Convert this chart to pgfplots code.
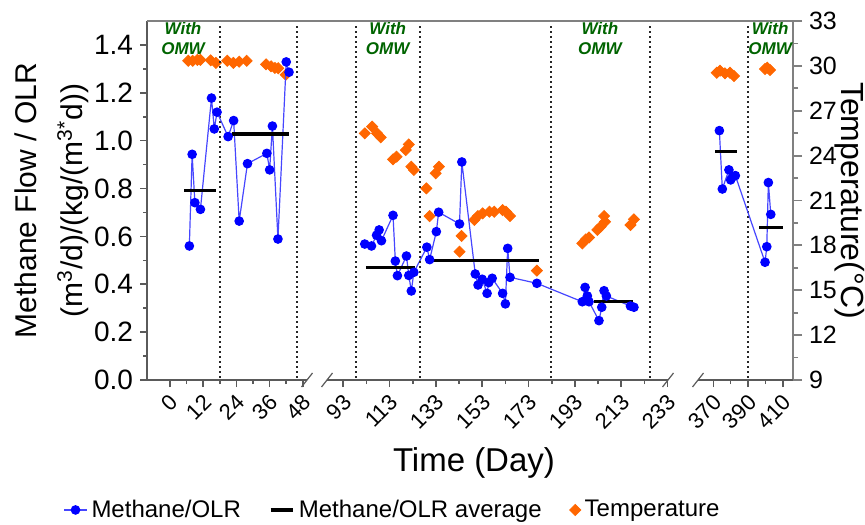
\documentclass[border=0pt]{standalone}
\usepackage{fontspec}
\setmainfont{Liberation Sans}
\usepackage{pgfplots}
\pgfplotsset{compat=1.18}
\definecolor{mblue}{RGB}{0,0,255}
\definecolor{mline}{RGB}{70,70,255}
\definecolor{torange}{RGB}{255,102,0}
\definecolor{omw}{RGB}{0,100,0}
\definecolor{axgray}{RGB}{90,90,90}
\definecolor{axgrayr}{RGB}{128,128,128}
\tikzset{omwl/.style={font=\bfseries\itshape\fontsize{8.5}{10.3}\selectfont, text=omw, align=center}}
\pgfplotsset{
  brk/.style={
    scale only axis, height=179.5pt, anchor=south west, clip=false,
    tick align=outside, major tick length=3.5pt, minor tick length=2pt,
    axis line style={-, draw=axgray, line width=0.8pt},
    every tick/.style={draw=axgray, line width=0.8pt},
    xticklabel style={xshift=3pt, yshift=-5pt, rotate=45, anchor=east, font=\fontsize{11}{12}\selectfont, inner sep=1pt},
    /pgf/number format/assume math mode=true,
    legend image code/.code={\draw[mark repeat=2,mark phase=2] plot coordinates {(0cm,0cm) (0.2cm,0cm) (0.4cm,0cm)};},
  },
  meth/.style={ymin=0, ymax=1.5},
  temp/.style={ymin=9, ymax=33},
  bl/.style={color=mline, line width=0.6pt, mark=*, mark size=2.1pt, mark options={fill=mblue, draw=mblue}},
  av/.style={black, line width=1.6pt, forget plot},
  tp/.style={only marks, mark=square*, mark size=1.95pt, mark options={rotate=45, fill=torange, draw=torange}, forget plot},
  dl/.style={black!85, line width=1pt, dash pattern=on 1pt off 1.5pt, forget plot},
}
\begin{document}
\begin{tikzpicture}
\useasboundingbox (0,0) rectangle (432.5pt,262pt);
% ---------- temperature layers ----------
\begin{axis}[brk, temp, hide axis, at={(73.5pt,72pt)}, width=80pt, xmin=-8.3, xmax=49.5]
\addplot[tp] coordinates {(6.6,30.34) (8.2,30.34) (9.9,30.4) (11,30.4) (14.7,30.37) (16.6,30.2) (20.7,30.34) (22.9,30.2) (25,30.28) (27.7,30.34) (34.7,30.1) (36.5,29.97) (37.9,29.86) (39.1,29.84) (41.8,29.4)};
\end{axis}
\begin{axis}[brk, temp, hide axis, at={(163.5pt,72pt)}, width=170.5pt, xmin=86, xmax=233.2]
\addplot[tp] coordinates {(102.3,25.49) (105.5,25.94) (107.6,25.49) (109.2,25.22) (114.5,23.75) (116,23.93) (120,24.37) (121.3,24.75) (122.4,23.26) (123.5,23.04) (128.9,21.81) (130.3,19.96) (132.9,22.82) (134.3,23.26) (143.2,17.58) (144.1,18.63) (149.6,19.7) (151.1,19.96) (153.2,20.14) (156.1,20.25) (158.2,20.25) (161.8,20.36) (163.3,20.25) (165,19.96) (176.6,16.31) (196.2,18.13) (197.7,18.4) (199.1,18.53) (202.7,19.03) (204.1,19.25) (205.6,19.96) (206,19.58) (217,19.36) (218.5,19.74)};
\end{axis}
\begin{axis}[brk, temp, name=s3t, at={(349pt,72pt)}, width=47.5pt, xmin=361.2, xmax=415.9,
  axis x line=none, axis y line*=right,
  axis line style={-, draw=axgrayr, line width=0.9pt},
  every tick/.style={draw=axgrayr, line width=0.9pt},
  major tick length=4.5pt, minor tick length=2.5pt,
  ytick={9,12,15,18,21,24,27,30,33}, minor y tick num=1,
  yticklabel style={font=\fontsize{12.5}{14}\selectfont},
  ylabel={Temperature(°C)},
  ylabel style={at={(axis description cs:1.595,0.5)}, anchor=center, rotate=180, font=\fontsize{16}{19}\selectfont}]
\addplot[tp] coordinates {(372,29.54) (373.9,29.68) (376.7,29.5) (379.6,29.54) (381.9,29.32) (399.8,29.79) (401.1,29.88) (402.7,29.72)};
\end{axis}
% ---------- methane segment 1 ----------
\begin{axis}[brk, meth, name=s1, at={(73.5pt,72pt)}, width=80pt, xmin=-8.3, xmax=49.5,
  axis x line*=bottom, axis y line*=left,
  xtick={0,12,24,36,48}, minor x tick num=1,
  ytick={0,0.2,0.4,0.6,0.8,1.0,1.2,1.4}, minor y tick num=1,
  yticklabel style={/pgf/number format/.cd, fixed, fixed zerofill, precision=1, /tikz/.cd, font=\fontsize{14}{16}\selectfont},
  ylabel={Methane Flow / OLR\\[5pt](m\textsuperscript{3}/d)/(kg/(m\textsuperscript{3*}d))},
  ylabel style={at={(axis description cs:-0.597,0.5)}, anchor=center, align=center, font=\fontsize{15}{18}\selectfont}]
\addplot[dl] coordinates {(18,0.01) (18,1.48)};
\addplot[dl] coordinates {(46,0.01) (46,1.48)};
\addplot[bl] coordinates {(7,0.560) (8,0.943) (9,0.741) (11,0.713) (15,1.178) (16,1.049) (17,1.119) (21,1.017) (23,1.084) (25,0.664) (28,0.904) (35,0.947) (36,0.878) (37,1.061) (39,0.589) (42,1.329) (43,1.286)};
\addplot[av] coordinates {(5.2,0.791) (16.6,0.791)};
\addplot[av] coordinates {(22.3,1.028) (43.1,1.028)};
\node[omwl] at (axis cs:4.7,1.427) {With\\OMW};
\end{axis}
% ---------- methane segment 2 ----------
\begin{axis}[brk, meth, name=s2, at={(163.5pt,72pt)}, width=170.5pt, xmin=86, xmax=233.2,
  axis x line*=bottom, axis y line=none,
  xtick={93,113,133,153,173,193,213,233}, minor x tick num=1,
  xlabel={Time (Day)},
  xlabel style={at={(axis description cs:0.431,-0.23)}, anchor=center, font=\fontsize{16.5}{19}\selectfont},
  legend columns=3,
  legend style={at={(axis description cs:0.195,-0.362)}, anchor=center, draw=none, fill=none,
    font=\fontsize{12}{14}\selectfont, /tikz/every even column/.append style={column sep=12pt}}]
\addplot[bl] coordinates {(102.3,0.568) (105.2,0.560) (107.4,0.605) (108.5,0.627) (109.5,0.582) (114.5,0.688) (115.5,0.497) (116.4,0.436) (120.3,0.518) (121.3,0.437) (122.4,0.372) (123.5,0.450) (129.1,0.555) (130.3,0.503) (133.2,0.620) (134.2,0.701) (143.2,0.652) (144.2,0.911) (150,0.443) (151.2,0.397) (153,0.421) (155.1,0.362) (155.8,0.407) (157.3,0.425) (161.8,0.362) (163,0.318) (164,0.550) (165,0.429) (176.6,0.404) (196.2,0.327) (197.4,0.387) (198.4,0.351) (199.1,0.327) (203.4,0.248) (204.6,0.304) (205.6,0.373) (206.6,0.351) (217,0.309) (218.5,0.304)};
\addlegendentry{Methane/OLR}
\addplot[black, line width=1.6pt] coordinates {(102.8,0.469) (123.8,0.469)};
\addlegendentry{Methane/OLR average}
\addplot[av] coordinates {(131.7,0.500) (177.6,0.500)};
\addplot[av] coordinates {(201.3,0.327) (218,0.327)};
\addplot[dl] coordinates {(98.5,0.01) (98.5,1.48)};
\addplot[dl] coordinates {(126.3,0.01) (126.3,1.48)};
\addplot[dl] coordinates {(182.8,0.01) (182.8,1.48)};
\addplot[dl] coordinates {(225.5,0.01) (225.5,1.48)};
\addlegendimage{only marks, mark=square*, mark size=1.95pt, mark options={rotate=45, fill=torange, draw=torange}}
\addlegendentry{Temperature}
\node[omwl] at (axis cs:112.2,1.427) {With\\OMW};
\node[omwl] at (axis cs:203.8,1.427) {With\\OMW};
\end{axis}
% ---------- methane segment 3 ----------
\begin{axis}[brk, meth, name=s3, at={(349pt,72pt)}, width=47.5pt, xmin=361.2, xmax=415.9,
  axis x line*=bottom, axis y line=none,
  xtick={370,390,410}, minor x tick num=1]
\addplot[dl] coordinates {(390,0.01) (390,1.48)};
\addplot[bl] coordinates {(373.5,1.042) (375.2,0.798) (379,0.878) (380,0.836) (381.2,0.850) (382.7,0.854) (399.8,0.492) (400.8,0.557) (401.7,0.825) (403.1,0.692)};
\addplot[av] coordinates {(371,0.954) (383.8,0.954)};
\addplot[av] coordinates {(396.5,0.638) (410,0.638)};
\node[omwl] at (axis cs:402.7,1.427) {With\\OMW};
\end{axis}
% ---------- frame top and axis breaks ----------
\draw[axgrayr, line width=0.8pt] (s1.north west) -- (s3.north east);
\draw[axgray, line width=0.6pt] ([xshift=-2.75pt,yshift=-3.5pt]s1.south east) -- ++(5.5pt,7pt);
\draw[axgray, line width=0.6pt] ([xshift=-2.75pt,yshift=-3.5pt]s2.south west) -- ++(5.5pt,7pt);
\draw[axgray, line width=0.6pt] ([xshift=-2.75pt,yshift=-3.5pt]s2.south east) -- ++(5.5pt,7pt);
\draw[axgray, line width=0.6pt] ([xshift=-2.75pt,yshift=-3.5pt]s3.south west) -- ++(5.5pt,7pt);
\end{tikzpicture}
\end{document}
